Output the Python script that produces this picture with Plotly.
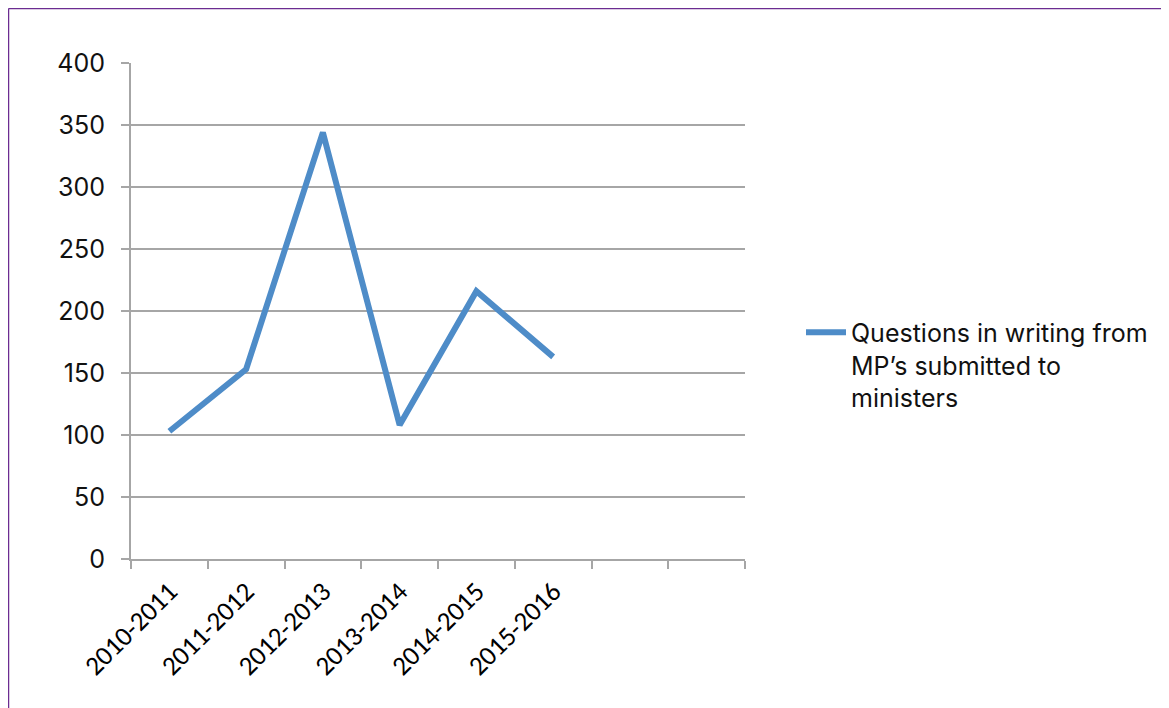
import plotly.graph_objects as go

categories = ["2010-2011", "2011-2012", "2012-2013", "2013-2014", "2014-2015", "2015-2016"]
empty_slots = [" ", "  "]
values = [103, 153, 344, 108, 216, 163]
series_name = "Questions in writing from<br>MP\u2019s submitted to<br>ministers"
y_ticks = [0, 50, 100, 150, 200, 250, 300, 350, 400]

W, H = 1169, 708
L, R, T, B = 123, 737, 55, 551  # plot area in px (figure coords)

fig = go.Figure()
fig.add_trace(go.Scatter(
    x=categories, y=values, mode="lines", name=series_name,
    line=dict(color="#4E8CC8", width=6),
))

grid = "#A6A6A6"
fig.update_layout(
    width=W, height=H,
    margin=dict(l=L, r=W - R, t=T, b=H - B, pad=0),
    paper_bgcolor="white", plot_bgcolor="white",
    showlegend=True,
    legend=dict(
        x=(793 - L) / (R - L), xanchor="left",
        y=(B - 357) / (B - T), yanchor="middle",
        valign="top",
        font=dict(family="Inter, Roboto, sans-serif", size=25, color="#111111"),
        bgcolor="rgba(0,0,0,0)", itemwidth=40, tracegroupgap=0,
    ),
    xaxis=dict(
        type="category",
        categoryorder="array",
        categoryarray=categories + empty_slots,
        range=[-0.5, 7.5],
        tickson="boundaries",
        ticks="outside", ticklen=8, tickcolor=grid, tickwidth=2,
        showline=True, linecolor=grid, linewidth=2,
        showgrid=False, zeroline=False,
        tickangle=-45,
        ticklabelstandoff=4,
        tickfont=dict(family="Carlito, Liberation Sans, sans-serif", size=27, color="#000000"),
        fixedrange=True,
    ),
    yaxis=dict(
        range=[0, 400],
        tickvals=y_ticks,
        ticks="outside", ticklen=8, tickcolor=grid, tickwidth=2,
        showline=True, linecolor=grid, linewidth=2,
        showgrid=True, gridcolor=grid, gridwidth=2,
        zeroline=False,
        ticklabelstandoff=11,
        tickfont=dict(family="Inter, Roboto, sans-serif", size=25, color="#111111"),
        fixedrange=True,
    ),
)

# purple frame (top and left edges visible in the reference)
px_w, px_h = R - L, B - T
def xp(px):
    return (px - L) / px_w
def yp(py):
    return (B - py) / px_h

frame = "#6B2C91"
fig.add_shape(type="line", xref="paper", yref="paper",
              x0=xp(0.5), x1=xp(1180), y0=yp(0.5), y1=yp(0.5),
              line=dict(color=frame, width=1.5))
fig.add_shape(type="line", xref="paper", yref="paper",
              x0=xp(0.5), x1=xp(0.5), y0=yp(0.5), y1=yp(720),
              line=dict(color=frame, width=1.5))

fig.write_html("out.html")
